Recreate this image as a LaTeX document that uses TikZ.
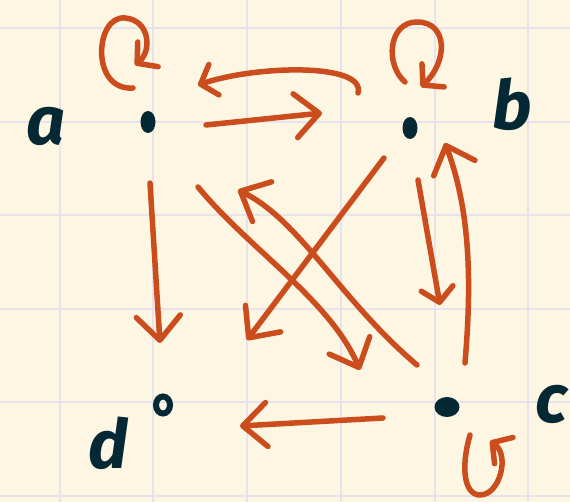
\documentclass[tikz,border=0pt]{standalone}
\usepackage{fontspec}
\newfontfamily\handfont{Fira Sans}
\usetikzlibrary{arrows.meta}
\definecolor{paper}{RGB}{253,246,227}
\definecolor{gridc}{RGB}{232,225,238}
\definecolor{ink}{RGB}{4,40,52}
\definecolor{pen}{RGB}{203,76,28}
\begin{document}
\begin{tikzpicture}[x=1pt,y=-1pt,
  arr/.style={draw=pen, line width=5.5pt, line cap=round, line join=round,
    -{Straight Barb[round,length=24pt,width=44pt]}},
  sarr/.style={arr, -{Straight Barb[round,length=14pt,width=32pt]}},
  vert/.style={inner sep=0pt, minimum size=0pt},
  lab/.style={text=ink, font=\handfont\bfseries\itshape\fontsize{68}{68}\selectfont, inner sep=0pt}]
\useasboundingbox (0,0) rectangle (570,502);
\fill[paper] (0,0) rectangle (570,502);
% grid
\foreach \gx in {59.5,153.25,247,340.75,434.5,528.25}
  \draw[gridc, line width=2pt] (\gx,0) -- (\gx,502);
\foreach \gy in {28,121.6,215.2,308.8,402.4,496}
  \draw[gridc, line width=2pt] (0,\gy) -- (570,\gy);
% vertices
\node[vert] (a) at (148,122) {};
\node[vert] (b) at (410,128) {};
\node[vert] (c) at (447,407) {};
\node[vert] (d) at (163,405) {};
\fill[ink] (a.center) ellipse [x radius=7.5pt, y radius=11pt];
\fill[ink] (b.center) ellipse [x radius=7.5pt, y radius=11pt];
\fill[ink] (c.center) ellipse [x radius=12.5pt, y radius=10pt];
\draw[ink, line width=6pt] (d.center) ellipse [x radius=7pt, y radius=8.5pt];
% labels
\node[lab] (la) at (46,126) {a};
\node[lab] (lb) at (512,104) {b};
\node[lab] (lc) at (551,404) {c};
\node[lab] (ld) at (108,443) {d};
% edges
\draw[arr] ([shift={(58,3)}]a.center) -- ([shift={(-88,-15)}]b.center);
\draw[sarr] ([shift={(-52,-35)}]b.center) .. controls +(8,-30) and +(60,-20) .. ([shift={(50,-37)}]a.center);
\draw[sarr] ([shift={(-15,-34)}]a.center) .. controls +(-43,3) and +(-30,-3) .. ([shift={(-23,-104)}]a.center)
   .. controls +(25,2) and +(17,-14) .. ([shift={(-13,-57)}]a.center);
\draw[sarr] ([shift={(-5,-46)}]b.center) .. controls +(-20,-17) and +(-29,0) .. ([shift={(7,-106)}]b.center)
   .. controls +(31,0) and +(27,-26) .. ([shift={(11,-41)}]b.center);
\draw[arr] ([shift={(18,-44)}]c.center) .. controls +(7,-83) and +(25,67) .. ([shift={(35,15)}]b.center);
\draw[sarr] ([shift={(8,52)}]b.center) -- ([shift={(-7,-102)}]c.center);
\draw[arr] ([shift={(2,61)}]a.center) -- ([shift={(-3,-62)}]d.center);
\draw[arr] ([shift={(-26,30)}]b.center) -- ([shift={(84,-65)}]d.center);
\draw[arr] ([shift={(50,65)}]a.center) .. controls +(52,63) and +(-30,-70) .. ([shift={(-87,-37)}]c.center);
\draw[arr] ([shift={(-30,-42)}]c.center) .. controls +(-77,-65) and +(62,30) .. ([shift={(90,68)}]a.center);
\draw[arr] ([shift={(-64,11)}]c.center) -- ([shift={(77,21)}]d.center);
\draw[sarr] ([shift={(23,28)}]c.center) .. controls +(-10,35) and +(-15,0) .. ([shift={(33,88)}]c.center)
   .. controls +(20,0) and +(20,14) .. ([shift={(43,34)}]c.center);
\end{tikzpicture}
\end{document}
